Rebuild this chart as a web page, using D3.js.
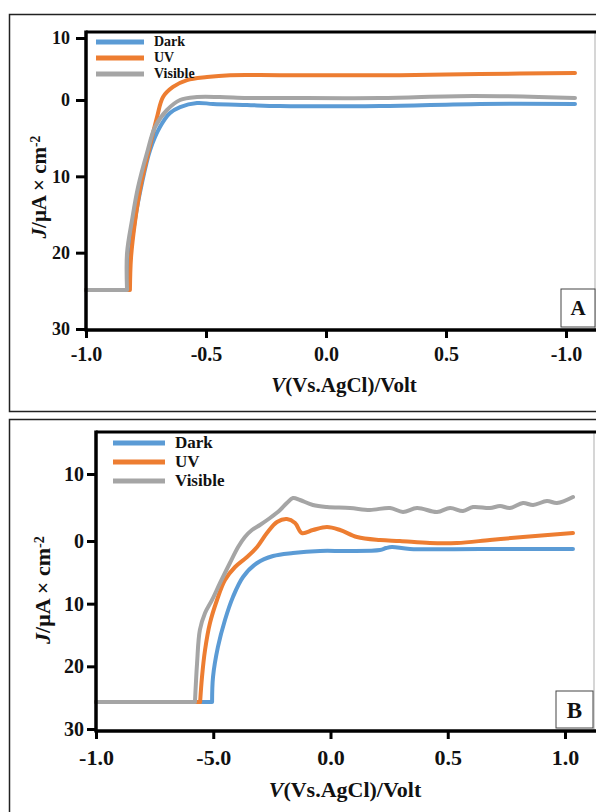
<!DOCTYPE html>
<html>
<head>
<meta charset="utf-8">
<script src="https://cdn.jsdelivr.net/npm/d3@7"></script>
<style>
  body { margin: 0; background: #fff; }
  text { font-family: "Liberation Serif", "Times New Roman", serif; font-weight: bold; fill: #111; }
</style>
</head>
<body>
<script>
// series names / colours
var seriesNames = ["Dark", "UV", "Visible"];
var seriesColors = ["#5b9bd5", "#ed7d31", "#a5a5a5"];

// tick values and the labels printed on them
var yTicks = [-10, 0, 10, 20, 30];
var yTickLabels = ["10", "0", "10", "20", "30"];
var xTicks = [-1, -0.5, 0, 0.5, 1];
var topXTickLabels = ["-1.0", "-0.5", "0.0", "0.5", "-1.0"];
var botXTickLabels = ["-1.0", "-5.0", "0.0", "0.5", "1.0"];

// panel A curves [x, J]  (J drawn downward, as on the printed axis)
var topDark = [[-1, 24.9], [-0.821, 24.9], [-0.817, 21.0], [-0.796, 15.7], [-0.767, 10.9], [-0.733, 6.55],
  [-0.692, 3.54], [-0.65, 1.7], [-0.608, 0.92], [-0.5375, 0.39], [-0.471, 0.52], [-0.329, 0.66],
  [-0.192, 0.79], [0.225, 0.79], [0.642, 0.52], [1.0375, 0.52]];
var topUV = [[-1, 24.9], [-0.817, 24.9], [-0.8125, 20.7], [-0.796, 16.0], [-0.771, 11.1], [-0.7375, 6.55],
  [-0.704, 2.23], [-0.679, -0.48], [-0.6375, -2.1], [-0.579, -3.2], [-0.496, -3.7], [-0.4, -4.0],
  [-0.192, -4.0], [0.308, -4.0], [0.642, -4.2], [1.0375, -4.35]];
var topVisible = [[-1, 24.9], [-0.829, 24.9], [-0.829, 20.05], [-0.808, 15.7], [-0.783, 11.4], [-0.746, 6.95],
  [-0.7125, 3.54], [-0.6625, 1.31], [-0.608, 0], [-0.5375, -0.48], [-0.442, -0.48], [-0.329, -0.32],
  [-0.192, -0.32], [0.225, -0.32], [0.6125, -0.65], [1.0375, -0.32]];

// panel B curves
var botDark = [[-1, 25.7], [-0.505, 25.7], [-0.501, 21.7], [-0.48, 16.9], [-0.45, 12.6], [-0.416, 8.93],
  [-0.373, 5.74], [-0.313, 3.51], [-0.245, 2.39], [-0.16, 1.91], [-0.045, 1.59], [0.07, 1.59],
  [0.211, 1.44], [0.237, 1.12], [0.262, 0.96], [0.339, 1.28], [0.638, 1.28], [1.034, 1.28]];
var botUV = [[-1, 25.7], [-0.556, 25.7], [-0.548, 21.7], [-0.535, 17.4], [-0.514, 13.1], [-0.484, 9.41],
  [-0.45, 6.22], [-0.407, 4.15], [-0.356, 2.55], [-0.313, 0.96], [-0.271, -1.19], [-0.228, -2.84],
  [-0.186, -3.28], [-0.151, -2.69], [-0.122, -1.19], [-0.075, -1.64], [-0.015, -2.09], [0.041, -1.64],
  [0.113, -0.6], [0.211, -0.15], [0.296, 0], [0.424, 0.32], [0.539, 0.32], [0.68, -0.15],
  [0.821, -0.6], [1.034, -1.19]];
var botVisible = [[-1, 25.7], [-0.578, 25.7], [-0.569, 19.5], [-0.557, 14.2], [-0.535, 11.5], [-0.505, 9.41],
  [-0.471, 6.7], [-0.429, 3.51], [-0.394, 0.96], [-0.365, -0.6], [-0.335, -1.64], [-0.301, -2.39],
  [-0.258, -3.43], [-0.215, -4.63], [-0.186, -5.67], [-0.16, -6.42], [-0.13, -6.12], [-0.075, -5.37],
  [-0.015, -5.07], [0.083, -4.93], [0.168, -4.63], [0.254, -4.93], [0.309, -4.33], [0.369, -4.93],
  [0.454, -4.33], [0.51, -4.93], [0.565, -4.48], [0.608, -5.07], [0.68, -4.93], [0.723, -5.22],
  [0.765, -4.93], [0.821, -5.67], [0.864, -5.37], [0.923, -5.97], [0.966, -5.67], [1.034, -6.57]];

var svg = d3.select("body").append("svg")
  .attr("width", 596)
  .attr("height", 812);

function drawPanel(cfg) {
  var g = svg.append("g");

  // outer frame of the panel
  g.append("rect")
    .attr("x", cfg.box[0]).attr("y", cfg.box[1])
    .attr("width", cfg.box[2]).attr("height", cfg.box[3])
    .attr("fill", "none").attr("stroke", "#222").attr("stroke-width", 1.5);

  var x = d3.scaleLinear().domain([-1, 1]).range(cfg.xRange);
  var y = d3.scaleLinear().domain([-10, 0, 30]).range(cfg.yRange);

  // thin right border + thick top border of the plot
  g.append("line")
    .attr("x1", cfg.right).attr("x2", cfg.right)
    .attr("y1", cfg.top).attr("y2", cfg.bottom)
    .attr("stroke", "#bbb").attr("stroke-width", 1.2);
  g.append("line")
    .attr("x1", cfg.left).attr("x2", 600)
    .attr("y1", cfg.top).attr("y2", cfg.top)
    .attr("stroke", "#000").attr("stroke-width", 3);

  // curves: flat saturated part straight, the rest smoothed
  var flat = d3.line()
    .x(function (d) { return x(d[0]); })
    .y(function (d) { return y(d[1]); });
  var smooth = d3.line()
    .x(function (d) { return x(d[0]); })
    .y(function (d) { return y(d[1]); })
    .curve(d3.curveCatmullRom.alpha(0.5));

  g.selectAll("path.curve")
    .data(cfg.series)
    .enter().append("path")
    .attr("class", "curve")
    .attr("d", function (d) {
      var rest = smooth(d.slice(1));
      return flat(d.slice(0, 2)) + "L" + rest.slice(1);
    })
    .attr("fill", "none")
    .attr("stroke", function (d, i) { return seriesColors[i]; })
    .attr("stroke-width", 4)
    .attr("stroke-linejoin", "round")
    .attr("stroke-linecap", "round");

  // Y axis
  var yAxis = g.append("g")
    .attr("transform", "translate(" + cfg.left + ",0)")
    .call(d3.axisLeft(y)
      .tickValues(yTicks)
      .tickFormat(function (d, i) { return yTickLabels[i]; })
      .tickSizeInner(cfg.yTick[0]).tickSizeOuter(0).tickPadding(cfg.yTick[1]));
  yAxis.select(".domain").remove();
  yAxis.selectAll(".tick line").attr("stroke", "#000").attr("stroke-width", 3);
  yAxis.selectAll(".tick text")
    .style("font-family", "'Liberation Serif', serif")
    .style("font-weight", "bold")
    .style("font-size", cfg.tickFont + "px")
    .attr("fill", "#111");

  // X axis
  var xAxis = g.append("g")
    .attr("transform", "translate(0," + cfg.bottom + ")")
    .call(d3.axisBottom(x)
      .tickValues(xTicks)
      .tickFormat(function (d, i) { return cfg.xTickLabels[i]; })
      .tickSizeInner(8).tickSizeOuter(0).tickPadding(cfg.xPad));
  xAxis.select(".domain").remove();
  xAxis.selectAll(".tick line").attr("stroke", "#000").attr("stroke-width", 3);
  xAxis.selectAll(".tick text")
    .style("font-family", "'Liberation Serif', serif")
    .style("font-weight", "bold")
    .style("font-size", cfg.xTickFont + "px")
    .attr("fill", "#111");

  // axis lines
  g.append("line")
    .attr("x1", cfg.left).attr("x2", cfg.left)
    .attr("y1", cfg.top - 1.5).attr("y2", cfg.bottom + 1.5)
    .attr("stroke", "#000").attr("stroke-width", 3.5);
  g.append("line")
    .attr("x1", cfg.left).attr("x2", 600)
    .attr("y1", cfg.bottom).attr("y2", cfg.bottom)
    .attr("stroke", "#000").attr("stroke-width", 3.5);

  // legend
  var leg = g.append("g");
  seriesNames.forEach(function (name, i) {
    var ly = cfg.legend.y + i * cfg.legend.step;
    leg.append("line")
      .attr("x1", cfg.legend.x).attr("x2", cfg.legend.x + cfg.legend.len)
      .attr("y1", ly).attr("y2", ly)
      .attr("stroke", seriesColors[i]).attr("stroke-width", 5);
    leg.append("text")
      .attr("x", cfg.legend.x + cfg.legend.len + 10)
      .attr("y", ly)
      .attr("dy", "0.32em")
      .style("font-size", cfg.legend.font + "px")
      .text(name);
  });

  // panel letter
  g.append("rect")
    .attr("x", cfg.tag.x).attr("y", cfg.tag.y)
    .attr("width", cfg.tag.w).attr("height", cfg.tag.h)
    .attr("fill", "#fff").attr("stroke", "#444").attr("stroke-width", 1);
  g.append("text")
    .attr("x", cfg.tag.x + cfg.tag.w / 2)
    .attr("y", cfg.tag.y + cfg.tag.h / 2)
    .attr("dy", "0.35em")
    .attr("text-anchor", "middle")
    .style("font-size", cfg.tag.font + "px")
    .text(cfg.tag.text);

  // axis titles
  var yt = g.append("text")
    .attr("transform", "translate(" + cfg.yTitle[0] + "," + cfg.yTitle[1] + ") rotate(-90)")
    .attr("text-anchor", "middle")
    .style("font-size", cfg.titleFont + "px");
  yt.append("tspan").style("font-style", "italic").text("J");
  yt.append("tspan").text("/\u03bcA \u00d7 cm");
  yt.append("tspan").attr("dy", "-0.45em").style("font-size", "0.65em").text("-2");

  var xt = g.append("text")
    .attr("x", cfg.xTitle[0]).attr("y", cfg.xTitle[1])
    .attr("text-anchor", "middle")
    .style("font-size", cfg.titleFont + "px");
  xt.append("tspan").style("font-style", "italic").text("V");
  xt.append("tspan").text("(Vs.AgCl)/Volt");
}

drawPanel({
  box: [9.5, 14.5, 600, 397],
  left: 86, right: 595, top: 32, bottom: 330,
  xRange: [86, 566], yRange: [38, 100, 329],
  series: [topDark, topUV, topVisible],
  xTickLabels: topXTickLabels,
  yTick: [10, 6], xPad: 9, tickFont: 18, xTickFont: 20,
  legend: { x: 96, y: 42, step: 16, len: 48, font: 14 },
  tag: { x: 561, y: 289, w: 34, h: 38, font: 21, text: "A" },
  yTitle: [46, 187], xTitle: [344, 392], titleFont: 21
});

drawPanel({
  box: [9.5, 419.5, 600, 420],
  left: 96, right: 594, top: 432, bottom: 731,
  xRange: [96, 565], yRange: [474, 541, 729],
  series: [botDark, botUV, botVisible],
  xTickLabels: botXTickLabels,
  yTick: [9, 3], xPad: 10, tickFont: 20, xTickFont: 22,
  legend: { x: 113, y: 443, step: 19, len: 52, font: 17 },
  tag: { x: 556, y: 691, w: 37, h: 37, font: 23, text: "B" },
  yTitle: [50, 590], xTitle: [345, 797], titleFont: 22
});
</script>
</body>
</html>
